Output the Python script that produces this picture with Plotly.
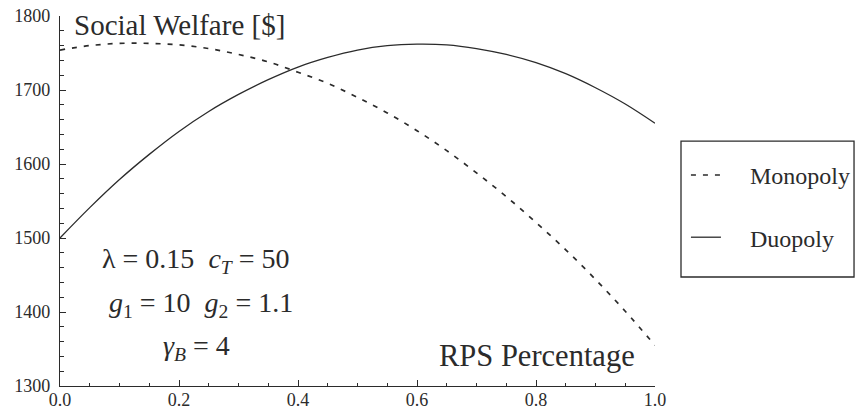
import plotly.graph_objects as go

# RPS percentage grid
rps = [0.00, 0.05, 0.10, 0.15, 0.20, 0.25, 0.30, 0.35, 0.40, 0.45, 0.50,
       0.55, 0.60, 0.65, 0.70, 0.75, 0.80, 0.85, 0.90, 0.95, 1.00]

# Social welfare [$]
monopoly = [1754, 1760, 1763, 1763, 1761, 1756, 1748, 1738, 1724, 1709, 1690,
            1669, 1645, 1618, 1588, 1556, 1521, 1484, 1444, 1401, 1355]
duopoly = [1500, 1541, 1579, 1613, 1644, 1671, 1694, 1714, 1731, 1744, 1754,
           1760, 1762, 1761, 1756, 1748, 1737, 1722, 1703, 1681, 1655]

x_ticks = [0.0, 0.2, 0.4, 0.6, 0.8, 1.0]
y_ticks = [1300, 1400, 1500, 1600, 1700, 1800]

SERIF = "Times New Roman"
INK = "#2b2b2b"
PAD = "\u00a0" * 4  # gap between legend sample and label
SP = "\u00a0"

fig = go.Figure()
fig.add_trace(go.Scatter(
    x=rps, y=monopoly, mode="lines", name=PAD + "Monopoly", legendgroup="m",
    line=dict(color=INK, width=1.7, dash="5px,7px", shape="spline"),
))
fig.add_trace(go.Scatter(
    x=rps, y=duopoly, mode="lines", name=PAD + "Duopoly", legendgroup="d",
    line=dict(color=INK, width=1.3, shape="spline"),
))

axis_common = dict(
    showgrid=False, zeroline=False, showline=True, linecolor=INK, linewidth=1.3,
    ticks="inside", ticklen=6, tickwidth=1.2, tickcolor=INK,
    tickfont=dict(family=SERIF, size=18, color=INK),
)

fig.update_xaxes(
    range=[0, 1], tickvals=x_ticks, ticktext=[f"{v:.1f}" for v in x_ticks],
    ticklabelstandoff=-3,
    minor=dict(dtick=0.05, ticks="inside", ticklen=3, tickcolor=INK, tickwidth=1),
    **axis_common,
)
fig.update_yaxes(
    range=[1300, 1800], tickvals=y_ticks,
    ticklabelstandoff=5,
    minor=dict(dtick=20, ticks="inside", ticklen=3.5, tickcolor=INK, tickwidth=1),
    **axis_common,
)

param_font = dict(family=SERIF, size=28, color=INK)
annotations = [
    dict(text="Social Welfare [$]", x=0.02, y=1.024, xref="paper", yref="paper",
         xanchor="left", yanchor="top", showarrow=False,
         font=dict(family=SERIF, size=29, color=INK)),
    dict(text="RPS Percentage", x=0.97, y=0.03, xref="paper", yref="paper",
         xanchor="right", yanchor="bottom", showarrow=False,
         font=dict(family=SERIF, size=30.5, color=INK)),
    dict(text=f"λ{SP}={SP}0.15{SP}{SP}<i>c</i><sub><i>T</i></sub>{SP}={SP}50",
         x=0.2286, y=1469,
         xref="paper", yref="y", xanchor="center", yanchor="middle",
         showarrow=False, font=param_font),
    dict(text=f"<i>g</i><sub>1</sub>{SP}={SP}10{SP}{SP}<i>g</i><sub>2</sub>{SP}={SP}1.1",
         x=0.237, y=1410,
         xref="paper", yref="y", xanchor="center", yanchor="middle",
         showarrow=False, font=param_font),
    dict(text=f"<i>γ</i><sub><i>B</i></sub>{SP}={SP}4", x=0.2286, y=1352,
         xref="paper", yref="y", xanchor="center", yanchor="middle",
         showarrow=False, font=param_font),
]

fig.update_layout(
    width=855, height=418,
    margin=dict(l=60, r=200, t=16, b=32, autoexpand=False),
    paper_bgcolor="white", plot_bgcolor="white",
    font=dict(family=SERIF),
    annotations=annotations,
    shapes=[dict(type="rect", xref="paper", yref="paper",
                 x0=1.0437, x1=1.3345, y0=0.2946, y1=0.662,
                 line=dict(color=INK, width=1.3))],
    showlegend=True,
    legend=dict(x=1.052, y=0.63, xanchor="left", yanchor="top",
                bgcolor="rgba(0,0,0,0)", borderwidth=0,
                font=dict(family=SERIF, size=24, color=INK),
                tracegroupgap=28, itemwidth=30),
)

fig.write_html("out.html")
